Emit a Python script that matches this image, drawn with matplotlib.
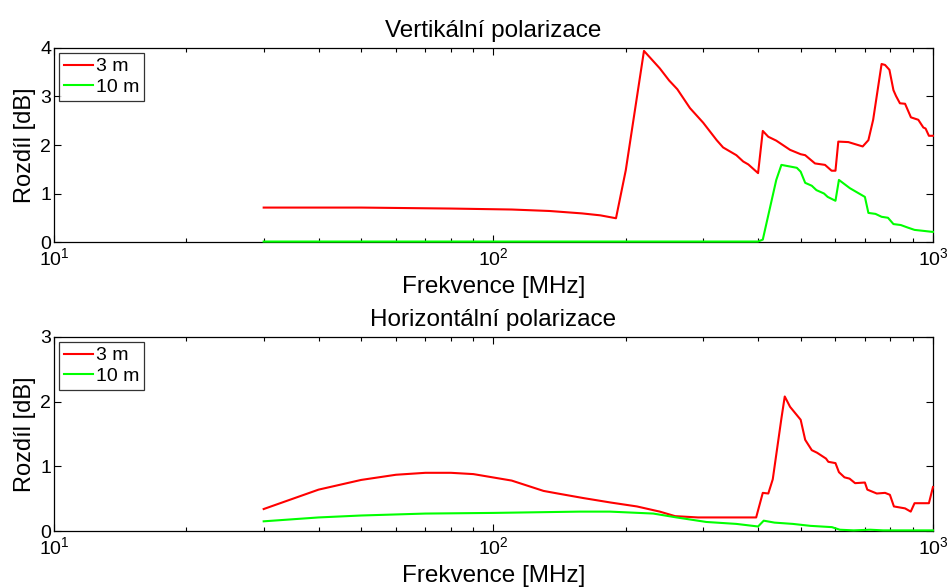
import matplotlib
matplotlib.use("Agg")
import matplotlib.pyplot as plt
from matplotlib.ticker import FixedLocator, LogLocator, NullFormatter

plt.rcParams['font.family'] = ['Liberation Sans', 'DejaVu Sans']

# vertical polarisation, difference in dB
v_freq_3m = [30, 50, 80, 110, 134, 159, 175, 190, 200, 220, 239, 251, 262, 280,
             300, 322, 333, 357, 370, 380, 400, 410, 422, 440, 473, 500, 512,
             539, 568, 588, 600, 609, 642, 692, 713, 731, 764, 778, 796, 813,
             824, 841, 864, 891, 926, 951, 962, 979, 1000]
v_diff_3m = [0.71, 0.71, 0.69, 0.67, 0.64, 0.59, 0.55, 0.49, 1.48, 3.94, 3.58,
             3.33, 3.15, 2.76, 2.46, 2.10, 1.95, 1.79, 1.66, 1.60, 1.42, 2.29,
             2.17, 2.09, 1.90, 1.81, 1.79, 1.62, 1.59, 1.47, 1.47, 2.07, 2.06,
             1.97, 2.10, 2.52, 3.67, 3.65, 3.55, 3.13, 3.01, 2.86, 2.85, 2.57,
             2.52, 2.36, 2.34, 2.19, 2.19]
v_freq_10m = [30, 400, 410, 440, 452, 490, 500, 512, 530, 543, 565, 576, 600,
              611, 647, 700, 713, 740, 764, 790, 813, 845, 875, 908, 951, 995,
              1000]
v_diff_10m = [0.01, 0.01, 0.05, 1.28, 1.59, 1.53, 1.45, 1.22, 1.16, 1.07, 1.00,
              0.93, 0.85, 1.28, 1.11, 0.93, 0.60, 0.58, 0.52, 0.50, 0.37, 0.35,
              0.30, 0.25, 0.23, 0.21, 0.21]

# horizontal polarisation
h_freq_3m = [30, 40, 50, 60, 70, 80, 90, 110, 130, 140, 160, 185, 212, 239, 259,
             292, 396, 410, 422, 432, 452, 460, 473, 500, 512, 530, 545, 571,
             578, 600, 611, 629, 646, 665, 700, 709, 745, 778, 798, 815, 864,
             890, 908, 979, 1000]
h_diff_3m = [0.34, 0.64, 0.79, 0.87, 0.90, 0.90, 0.88, 0.78, 0.62, 0.58, 0.51,
             0.44, 0.38, 0.30, 0.23, 0.21, 0.21, 0.59, 0.58, 0.80, 1.74, 2.08,
             1.92, 1.72, 1.41, 1.25, 1.21, 1.12, 1.07, 1.05, 0.91, 0.83, 0.81,
             0.74, 0.75, 0.64, 0.58, 0.59, 0.56, 0.38, 0.35, 0.30, 0.43, 0.43,
             0.68]
h_freq_10m = [30, 40, 50, 70, 100, 157, 184, 231, 261, 305, 357, 400, 412, 436,
              480, 526, 589, 614, 660, 720, 770, 1000]
h_diff_10m = [0.15, 0.21, 0.24, 0.27, 0.28, 0.30, 0.30, 0.27, 0.21, 0.14, 0.11,
              0.07, 0.16, 0.13, 0.11, 0.08, 0.06, 0.02, 0.01, 0.02, 0.01, 0.01]

fig = plt.figure(figsize=(9.49, 5.88), dpi=100)
ax_v = fig.add_axes([0.0569, 0.5884, 0.9262, 0.3300])
ax_h = fig.add_axes([0.0569, 0.0969, 0.9262, 0.3300])

panels = [
    (ax_v, "Vertikální polarizace", v_freq_3m, v_diff_3m, v_freq_10m, v_diff_10m, 4),
    (ax_h, "Horizontální polarizace", h_freq_3m, h_diff_3m, h_freq_10m, h_diff_10m, 3),
]

for ax, title, f3, d3, f10, d10, ymax in panels:
    ax.plot(f3, d3, color='#ff0000', lw=1.5, label='3 m', clip_on=False, zorder=3)
    ax.plot(f10, d10, color='#00ff00', lw=1.5, label='10 m', clip_on=False, zorder=3)
    ax.set_xscale('log')
    ax.set_xlim(10, 1000)
    ax.set_ylim(0, ymax)
    ax.set_yticks(range(ymax + 1))
    ax.xaxis.set_major_locator(FixedLocator([10, 100, 1000]))
    ax.xaxis.set_minor_locator(LogLocator(base=10, subs=range(2, 10)))
    ax.xaxis.set_minor_formatter(NullFormatter())
    ax.set_xticklabels([r'$\mathregular{10^{1}}$', r'$\mathregular{10^{2}}$',
                        r'$\mathregular{10^{3}}$'])
    ax.tick_params(which='both', direction='in', top=True, right=True,
                   labelsize=14)
    ax.tick_params(axis='x', pad=4)
    ax.tick_params(axis='y', pad=2)
    ax.tick_params(which='major', length=5, width=0.8)
    ax.tick_params(which='minor', length=3, width=0.8)
    for s in ax.spines.values():
        s.set_linewidth(0.9)
    ax.set_title(title, fontsize=17.5, pad=8)
    ax.set_xlabel('Frekvence [MHz]', fontsize=17.5, labelpad=4.5)
    ax.set_ylabel('Rozdíl [dB]', fontsize=17, labelpad=3)
    leg = ax.legend(loc='upper left', fontsize=14, frameon=True, fancybox=False,
                    edgecolor='black', handlelength=1.5, handletextpad=0.15,
                    borderpad=0.25, labelspacing=0.15, borderaxespad=0.25)
    leg.get_frame().set_linewidth(0.9)

fig.savefig('out.png', dpi=100)
